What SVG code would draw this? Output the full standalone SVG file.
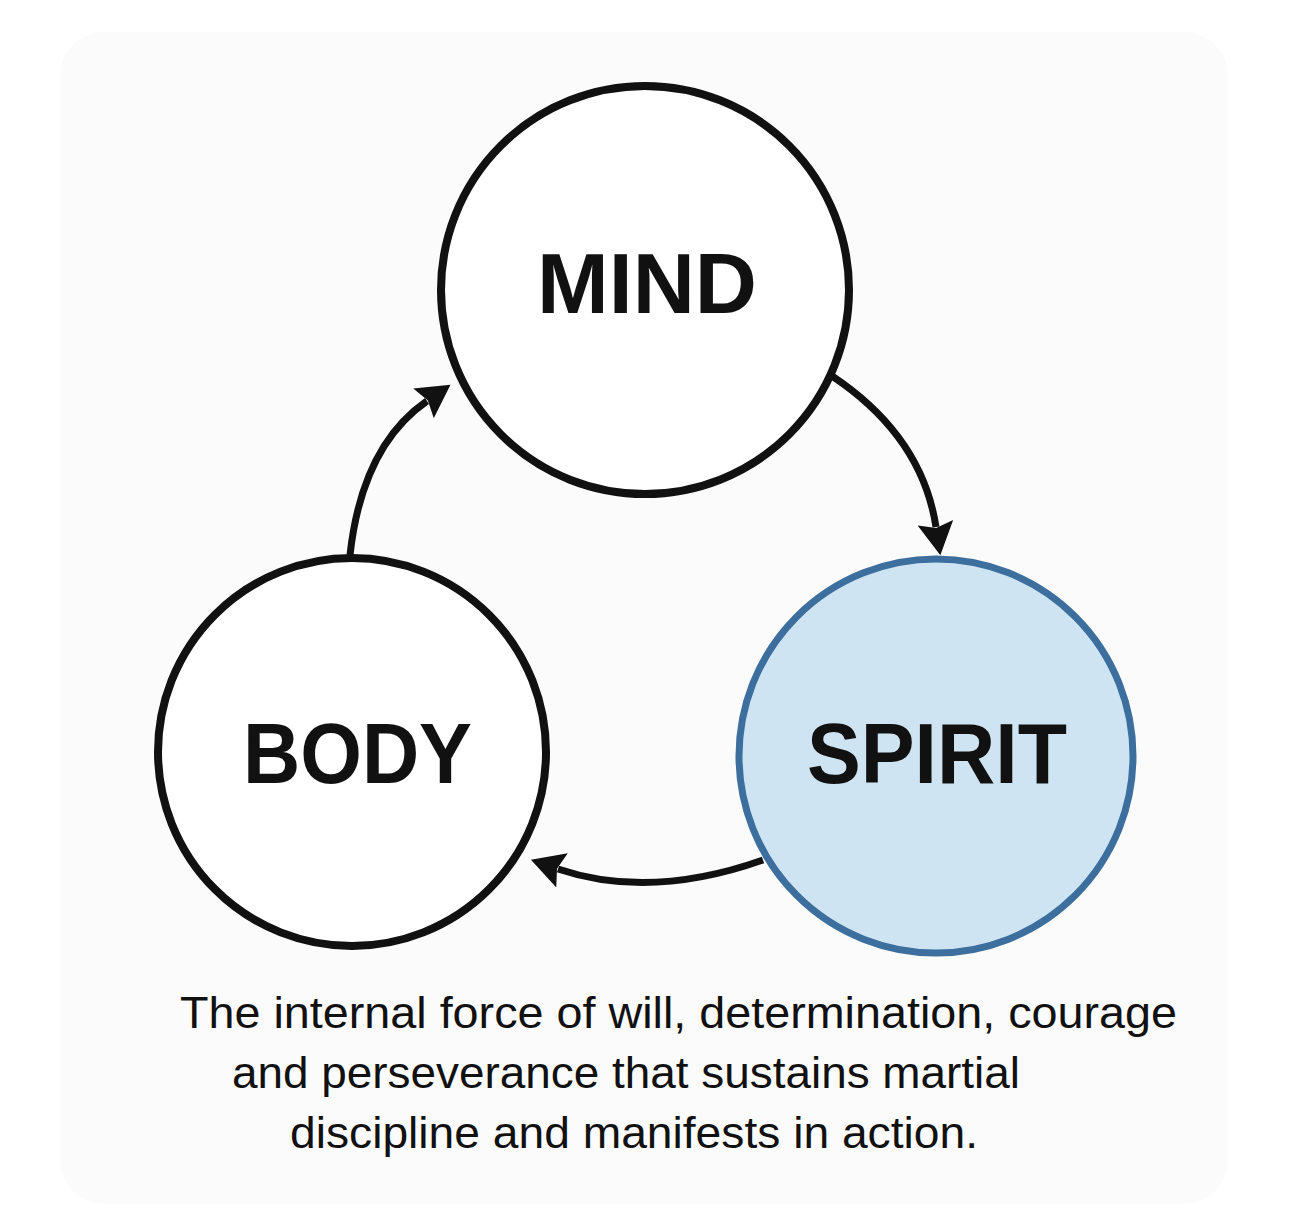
<svg xmlns="http://www.w3.org/2000/svg" width="1290" height="1221" viewBox="0 0 1290 1221">
  <style>
    .node { fill: #ffffff; stroke: #111111; stroke-width: 8; }
    .node.hl { fill: #cfe4f2; stroke: #3c6e9e; stroke-width: 7; }
    .label { font-family: "Liberation Sans", Arial, sans-serif; font-weight: bold; font-size: 85px; fill: #111111; }
    .caption { font-family: "Liberation Sans", Arial, sans-serif; font-size: 44px; fill: #111111; }
    .conn { fill: none; stroke: #111111; stroke-width: 7; }
  </style>
  <defs>
    <marker id="arrow" markerUnits="userSpaceOnUse" markerWidth="36" markerHeight="36" viewBox="0 0 34 34" refX="4" refY="17" orient="auto">
      <path d="M0,0 L31,17 L0,34 L5,17 Z" fill="#111111"/>
    </marker>
  </defs>
  <rect x="60" y="32" width="1168" height="1172" rx="44" fill="#fbfbfb"/>

  <g id="connectors">
    <path class="conn" d="M832,376 Q922,436 936,527" marker-end="url(#arrow)"/>
    <path class="conn" d="M763,860 Q650,900 558,869" marker-end="url(#arrow)"/>
    <path class="conn" d="M350,555 Q362,446 427,401" marker-end="url(#arrow)"/>
  </g>

  <g id="node-mind">
    <circle class="node" cx="645" cy="290" r="204"/>
    <text class="label" x="537" y="313" textLength="220" lengthAdjust="spacingAndGlyphs">MIND</text>
  </g>
  <g id="node-body">
    <circle class="node" cx="352" cy="752" r="194"/>
    <text class="label" x="243" y="783" textLength="229" lengthAdjust="spacingAndGlyphs">BODY</text>
  </g>
  <g id="node-spirit">
    <circle class="node hl" cx="936" cy="756" r="197"/>
    <text class="label" x="807" y="783" textLength="260" lengthAdjust="spacingAndGlyphs">SPIRIT</text>
  </g>

  <g id="caption">
    <text class="caption" x="180" y="1028" textLength="997" lengthAdjust="spacingAndGlyphs">The internal force of will, determination, courage</text>
    <text class="caption" x="232" y="1088" textLength="788" lengthAdjust="spacingAndGlyphs">and perseverance that sustains martial</text>
    <text class="caption" x="290" y="1148" textLength="688" lengthAdjust="spacingAndGlyphs">discipline and manifests in action.</text>
  </g>
</svg>
